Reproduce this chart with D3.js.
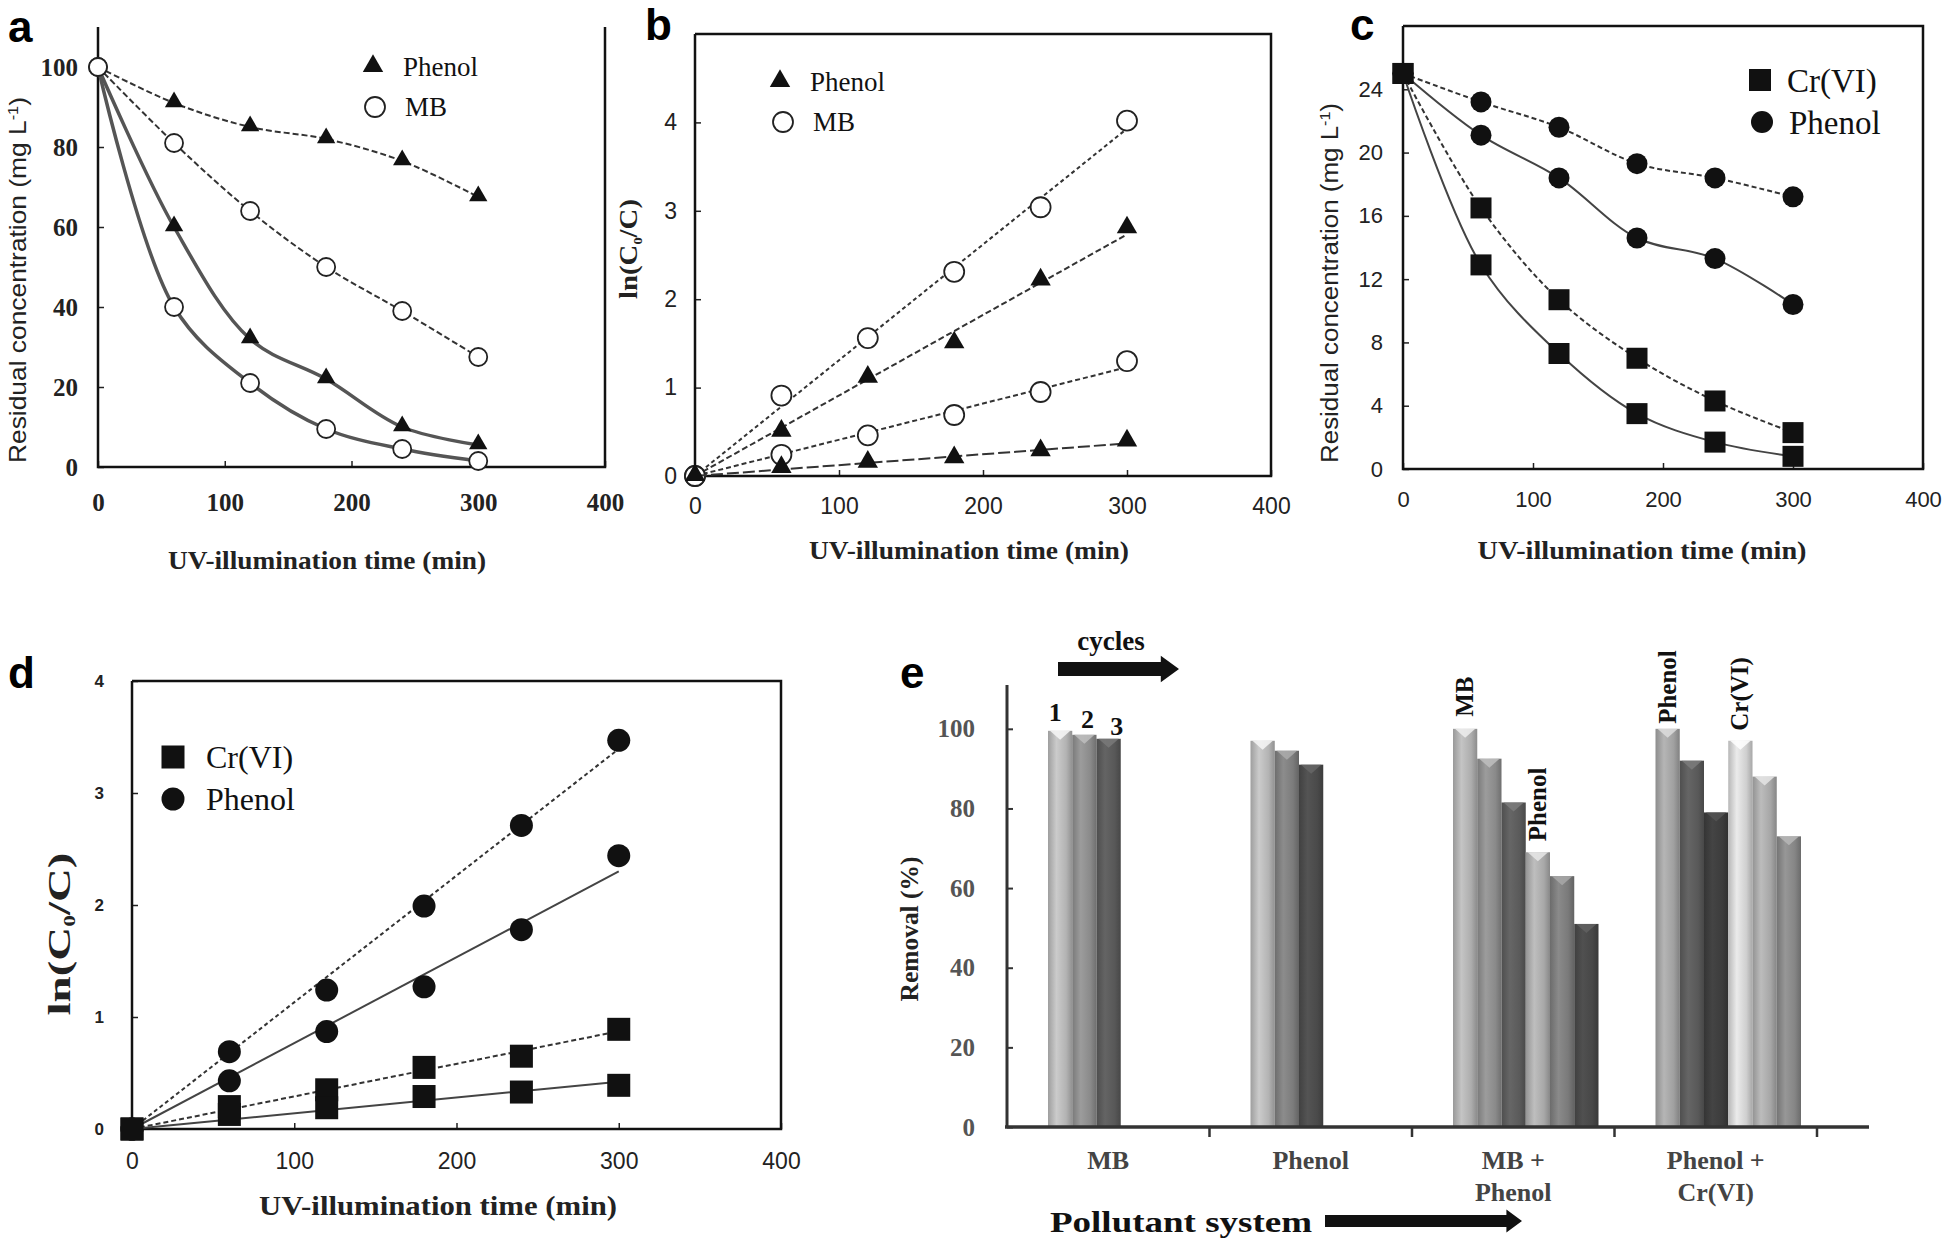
<!DOCTYPE html>
<meta charset="utf-8">
<head>
  <style>
    body { margin: 0; background: #fff; }
    svg { display: block; }
  </style>
  <script src="https://d3js.org/d3.v7.min.js"></script>
</head>
<body>
<script>
// ---- data ----
var times = [0, 60, 120, 180, 240, 300];

// panel a: residual concentration (mg/L)
var aPhenolDashed = [100, 91, 85, 82, 76.5, 67.5];
var aMBDashed     = [100, 81, 64, 50, 39, 27.5];
var aPhenolSolid  = [100, 60, 32, 22, 10, 5.5];
var aMBSolid      = [100, 40, 21, 9.5, 4.5, 1.5];

// panel b: ln(C0/C)
var bMBFast     = [0, 0.91, 1.56, 2.31, 3.04, 4.02];
var bPhenolFast = [0, 0.5, 1.11, 1.5, 2.21, 2.8];
var bMBSlow     = [0, 0.24, 0.46, 0.69, 0.95, 1.3];
var bPhenolSlow = [0, 0.09, 0.15, 0.2, 0.28, 0.39];

// panel c: residual concentration (mg/L)
var cPhenolDashed = [25, 23.2, 21.6, 19.3, 18.4, 17.2];
var cPhenolSolid  = [25, 21.1, 18.4, 14.6, 13.3, 10.4];
var cCrDashed     = [25, 16.5, 10.7, 7.0, 4.3, 2.3];
var cCrSolid      = [25, 12.9, 7.3, 3.5, 1.7, 0.8];

// panel d: ln(C0/C)
var dPhenolFast = [0, 0.69, 1.24, 1.99, 2.71, 3.47];
var dPhenolSlow = [0, 0.43, 0.87, 1.27, 1.78, 2.44];
var dCrFast     = [0, 0.2, 0.35, 0.55, 0.65, 0.89];
var dCrSlow     = [0, 0.13, 0.19, 0.29, 0.33, 0.39];

// panel e: removal (%) over 3 cycles
var systems = ["MB", "Phenol", "MB +|Phenol", "Phenol +|Cr(VI)"];
var removalMB       = [99.5, 98.5, 97.5];
var removalPhenol   = [97, 94.5, 91];
var removalMBPhenol = [100, 92.5, 81.5, 69, 63, 51];
var removalPhenolCr = [100, 92, 79, 97, 88, 73];

var xTicks = [0, 100, 200, 300, 400];

// ---- styles ----
var SERIF = "'Liberation Serif', 'Times New Roman', serif";
var SANS = "'Liberation Sans', Arial, sans-serif";
var barShades = [
  ["#b3b3b3", "#8a8a8a", "#585858"],
  ["#b3b3b3", "#7c7c7c", "#4a4a4a"],
  ["#adadad", "#8a8a8a", "#5a5a5a", "#a8a8a8", "#7a7a7a", "#474747"],
  ["#a0a0a0", "#595959", "#3c3c3c", "#cfcfcf", "#a6a6a6", "#858585"]
];

var svg = d3.select("body").append("svg")
  .attr("width", 1946).attr("height", 1238);
svg.append("rect").attr("width", 1946).attr("height", 1238).attr("fill", "#fff");

function panelLetter(t, x, y) {
  svg.append("text").attr("x", x).attr("y", y)
    .attr("font-family", SANS).attr("font-weight", "bold")
    .attr("font-size", 44).text(t);
}

function marker(g, type, x, y, s) {
  if (type == "tri") {
    g.append("path").attr("d", d3.symbol(d3.symbolTriangle, s * s * 0.45)())
      .attr("transform", "translate(" + x + "," + (y - 1) + ")").attr("fill", "#111");
  } else if (type == "ocircle") {
    g.append("circle").attr("cx", x).attr("cy", y).attr("r", s / 2)
      .attr("fill", "#fff").attr("stroke", "#222").attr("stroke-width", 1.8);
  } else if (type == "circle") {
    g.append("circle").attr("cx", x).attr("cy", y).attr("r", s / 2).attr("fill", "#111");
  } else {
    g.append("rect").attr("x", x - s / 2).attr("y", y - s / 2)
      .attr("width", s).attr("height", s).attr("fill", "#111");
  }
}

// generic line panel
function linePanel(cfg) {
  var x = d3.scaleLinear().domain([0, 400]).range(cfg.xr);
  var y = d3.scaleLinear().domain(cfg.yd).range(cfg.yr);
  var g = svg.append("g");

  // axes with inward ticks
  var ax = g.append("g").attr("transform", "translate(0," + cfg.yr[0] + ")")
    .call(d3.axisBottom(x).tickValues(xTicks).tickSizeInner(-6).tickSizeOuter(0)
      .tickPadding(cfg.xPad).tickFormat(d3.format("d")));
  ax.select(".domain").remove();
  ax.selectAll("line").attr("stroke", "#222").attr("stroke-width", 1.5);
  ax.selectAll("text").attr("font-family", cfg.tickFont).attr("font-size", cfg.tickSize)
    .attr("font-weight", cfg.tickWeight).attr("fill", "#222");

  var ay = g.append("g").attr("transform", "translate(" + cfg.xr[0] + ",0)")
    .call(d3.axisLeft(y).tickValues(cfg.yTicks).tickSizeInner(-6).tickSizeOuter(0)
      .tickPadding(cfg.yPad).tickFormat(d3.format("d")));
  ay.select(".domain").remove();
  ay.selectAll("line").attr("stroke", "#222").attr("stroke-width", 1.5);
  ay.selectAll("text").attr("font-family", cfg.yTickFont || cfg.tickFont)
    .attr("font-size", cfg.yTickSize || cfg.tickSize)
    .attr("font-weight", cfg.yTickWeight || cfg.tickWeight).attr("fill", "#222");

  // frame
  var x0 = cfg.xr[0], x1 = cfg.xr[1], y0 = cfg.yr[0], y1 = cfg.yr[1];
  var frame = cfg.noTop
    ? [[x0, y1], [x0, y0], [x1, y0], [x1, y1]]
    : [[x0, y1], [x0, y0], [x1, y0], [x1, y1], [x0, y1]];
  g.append("path").attr("d", d3.line()(frame)).attr("fill", "none")
    .attr("stroke", "#111").attr("stroke-width", 2.5);

  // series
  cfg.series.forEach(function(s) {
    var pts = times.map(function(t, i) { return [t, s.values[i]]; });
    var linePts;
    if (cfg.fit) {
      // least squares line through the origin
      var sxy = d3.sum(pts, function(p) { return p[0] * p[1]; });
      var sxx = d3.sum(pts, function(p) { return p[0] * p[0]; });
      var k = sxy / sxx;
      linePts = [[0, 0], [300, 300 * k]];
    } else {
      linePts = pts;
    }
    g.append("path")
      .attr("d", d3.line().x(function(p) { return x(p[0]); }).y(function(p) { return y(p[1]); })
        .curve(cfg.fit ? d3.curveLinear : d3.curveCatmullRom.alpha(0.5))(linePts))
      .attr("fill", "none").attr("stroke", s.color || "#333")
      .attr("stroke-width", s.width || 2)
      .attr("stroke-dasharray", s.dash || null);
    pts.forEach(function(p) { marker(g, s.marker, x(p[0]), y(p[1]), cfg.mSize); });
  });

  // legend
  cfg.legend.forEach(function(l) {
    marker(g, l.marker, l.x, l.y, cfg.lSize);
    g.append("text").attr("x", l.x + cfg.lGap).attr("y", l.y).attr("dy", "0.35em")
      .attr("font-family", SERIF).attr("font-size", cfg.lFont).attr("fill", "#111").text(l.label);
  });

  // titles
  g.append("text").attr("x", cfg.xtX).attr("y", cfg.xtY)
    .attr("text-anchor", "middle").attr("font-family", SERIF).attr("font-weight", "bold")
    .attr("font-size", cfg.xtSize || 25).attr("fill", "#222")
    .attr("textLength", cfg.xtLen).attr("lengthAdjust", "spacingAndGlyphs")
    .text("UV-illumination time (min)");

  var yt = g.append("text").attr("transform", "translate(" + cfg.ytX + "," + cfg.ytY + ") rotate(-90)")
    .attr("text-anchor", "middle").attr("fill", "#222")
    .attr("textLength", cfg.ytLen).attr("lengthAdjust", "spacingAndGlyphs");
  if (cfg.ln) {
    yt.attr("font-family", SERIF).attr("font-weight", "bold").attr("font-size", cfg.ytSize);
    yt.append("tspan").text("ln(C");
    yt.append("tspan").attr("font-size", cfg.ytSize * 0.5).attr("dy", 5).text("0");
    yt.append("tspan").attr("dy", -5).text("/C)");
  } else {
    yt.attr("font-family", SANS).attr("font-size", cfg.ytSize);
    yt.append("tspan").text("Residual concentration (mg L");
    yt.append("tspan").attr("font-size", cfg.ytSize * 0.62).attr("dy", -8).text("-1");
    yt.append("tspan").attr("dy", 8).text(")");
  }
}

// ---- panel a ----
panelLetter("a", 8, 42);
linePanel({
  xr: [98, 605], yr: [467, 27], yd: [0, 110], yTicks: [0, 20, 40, 60, 80, 100],
  noTop: true, xPad: 26, yPad: 20, tickFont: SERIF, tickSize: 25, tickWeight: "bold",
  mSize: 18, lSize: 20, lGap: 30, lFont: 27,
  series: [
    { values: aPhenolDashed, marker: "tri", dash: "6,3" },
    { values: aMBDashed, marker: "ocircle", dash: "6,3" },
    { values: aPhenolSolid, marker: "tri", color: "#555", width: 3.5 },
    { values: aMBSolid, marker: "ocircle", color: "#555", width: 3.5 }
  ],
  legend: [
    { marker: "tri", x: 373, y: 67, label: "Phenol" },
    { marker: "ocircle", x: 375, y: 107, label: "MB" }
  ],
  xtX: 327, xtY: 569, xtLen: 318, ytX: 26, ytY: 280, ytSize: 24, ytLen: 366
});

// ---- panel b ----
panelLetter("b", 645, 40);
linePanel({
  xr: [695, 1271], yr: [476, 34], yd: [0, 5], yTicks: [0, 1, 2, 3, 4],
  xPad: 22, yPad: 18, tickFont: SANS, tickSize: 23, tickWeight: "normal",
  mSize: 20, lSize: 20, lGap: 30, lFont: 27, fit: true,
  series: [
    { values: bMBFast, marker: "ocircle", dash: "4,3" },
    { values: bPhenolFast, marker: "tri", dash: "6,3" },
    { values: bMBSlow, marker: "ocircle", dash: "5,3" },
    { values: bPhenolSlow, marker: "tri", dash: "12,4" }
  ],
  legend: [
    { marker: "tri", x: 780, y: 82, label: "Phenol" },
    { marker: "ocircle", x: 783, y: 122, label: "MB" }
  ],
  xtX: 969, xtY: 559, xtLen: 320, ytX: 637, ytY: 249, ytSize: 26, ytLen: 100, ln: true
});

// ---- panel c ----
panelLetter("c", 1350, 40);
linePanel({
  xr: [1403, 1923], yr: [469, 26], yd: [0, 28], yTicks: [0, 4, 8, 12, 16, 20, 24],
  xPad: 22, yPad: 20, tickFont: SANS, tickSize: 22, tickWeight: "normal",
  mSize: 21, lSize: 22, lGap: 27, lFont: 33,
  series: [
    { values: cPhenolDashed, marker: "circle", dash: "5,3" },
    { values: cPhenolSolid, marker: "circle", color: "#444" },
    { values: cCrDashed, marker: "square", dash: "5,3" },
    { values: cCrSolid, marker: "square", color: "#444" }
  ],
  legend: [
    { marker: "square", x: 1760, y: 80, label: "Cr(VI)" },
    { marker: "circle", x: 1762, y: 122, label: "Phenol" }
  ],
  xtX: 1642, xtY: 559, xtLen: 329, ytX: 1338, ytY: 283, ytSize: 23, ytLen: 360
});

// ---- panel d ----
panelLetter("d", 8, 688);
linePanel({
  xr: [132, 781], yr: [1129, 681], yd: [0, 4], yTicks: [0, 1, 2, 3, 4],
  xPad: 24, yPad: 28, tickFont: SANS, tickSize: 23, tickWeight: "normal",
  yTickSize: 17, yTickWeight: "bold",
  mSize: 23, lSize: 23, lGap: 33, lFont: 32, fit: true,
  series: [
    { values: dPhenolFast, marker: "circle", dash: "4,3" },
    { values: dPhenolSlow, marker: "circle", color: "#444" },
    { values: dCrFast, marker: "square", dash: "5,3" },
    { values: dCrSlow, marker: "square", color: "#444" }
  ],
  legend: [
    { marker: "square", x: 173, y: 757, label: "Cr(VI)" },
    { marker: "circle", x: 173, y: 799, label: "Phenol" }
  ],
  xtX: 438, xtY: 1215, xtSize: 27, xtLen: 358, ytX: 70, ytY: 934, ytSize: 32, ytLen: 163, ln: true
});

// ---- panel e ----
panelLetter("e", 900, 688);
(function() {
  var g = svg.append("g");
  var x = d3.scaleBand().domain(systems).range([1007, 1817]);
  var slot = d3.scaleBand().domain(d3.range(6)).range([41, 41 + 145.5]);
  var y = d3.scaleLinear().domain([0, 110]).range([1127, 689]);
  var groups = [removalMB, removalPhenol, removalMBPhenol, removalPhenolCr];

  var defs = svg.append("defs");
  var gid = 0;
  function grad(c) {
    var id = "g" + (gid++);
    var base = d3.color(c);
    var lg = defs.append("linearGradient").attr("id", id)
      .attr("x1", "0%").attr("x2", "100%").attr("y1", "0%").attr("y2", "0%");
    lg.append("stop").attr("offset", "0%").attr("stop-color", base.darker(0.35));
    lg.append("stop").attr("offset", "35%").attr("stop-color", base.brighter(0.35));
    lg.append("stop").attr("offset", "75%").attr("stop-color", base);
    lg.append("stop").attr("offset", "100%").attr("stop-color", base.darker(0.6));
    return "url(#" + id + ")";
  }

  groups.forEach(function(vals, gi) {
    vals.forEach(function(v, i) {
      var bx = x(systems[gi]) + slot(i), bw = slot.bandwidth(), by = y(v);
      g.append("rect").attr("x", bx).attr("y", by).attr("width", bw)
        .attr("height", y(0) - by).attr("fill", grad(barShades[gi][i]));
      g.append("path")
        .attr("d", d3.line()([[bx + 2, by], [bx + bw - 2, by], [bx + bw / 2, by + 9]]) + "Z")
        .attr("fill", d3.color(barShades[gi][i]).brighter(0.9)).attr("opacity", 0.85);
    });
  });

  // axes
  var ay = g.append("g").attr("transform", "translate(1007,0)")
    .call(d3.axisLeft(y).tickValues([0, 20, 40, 60, 80, 100]).tickSizeInner(-6).tickSizeOuter(0).tickPadding(32));
  ay.select(".domain").remove();
  ay.selectAll("line").attr("stroke", "#333").attr("stroke-width", 2);
  ay.selectAll("text").attr("font-family", SERIF).attr("font-weight", "bold")
    .attr("font-size", 25).attr("fill", "#555");
  g.append("line").attr("x1", 1007).attr("x2", 1007).attr("y1", 685).attr("y2", 1128)
    .attr("stroke", "#333").attr("stroke-width", 3);
  g.append("line").attr("x1", 1005).attr("x2", 1869).attr("y1", 1127).attr("y2", 1127)
    .attr("stroke", "#333").attr("stroke-width", 3.5);
  systems.forEach(function(s) {
    var tx = x(s) + x.bandwidth();
    g.append("line").attr("x1", tx).attr("x2", tx).attr("y1", 1127).attr("y2", 1137)
      .attr("stroke", "#333").attr("stroke-width", 2.5);
    s.split("|").forEach(function(line, li) {
      g.append("text").attr("x", x(s) + x.bandwidth() / 2).attr("y", 1160 + li * 32)
        .attr("dy", "0.35em").attr("text-anchor", "middle")
        .attr("font-family", SERIF).attr("font-weight", "bold").attr("font-size", 26)
        .attr("fill", "#444").text(line);
    });
  });

  // cycle numbers above MB bars
  ["1", "2", "3"].forEach(function(t, i) {
    var bx = x(systems[0]) + slot(i) + slot.bandwidth() / 2;
    g.append("text").attr("x", bx + (i == 0 ? -5 : i == 2 ? 8 : 3)).attr("y", y(removalMB[i]) - 10 + i * 3)
      .attr("text-anchor", "middle").attr("font-family", SERIF).attr("font-weight", "bold")
      .attr("font-size", 26).attr("fill", "#111").text(t);
  });

  // vertical labels above bars
  function vlabel(t, gi, i, gap) {
    var bx = x(systems[gi]) + slot(i) + slot.bandwidth() / 2;
    g.append("text").attr("transform", "translate(" + (bx + 8) + "," + (y(groups[gi][i]) - gap) + ") rotate(-90)")
      .attr("font-family", SERIF).attr("font-weight", "bold").attr("font-size", 25)
      .attr("fill", "#111").text(t);
  }
  vlabel("MB", 2, 0, 12);
  vlabel("Phenol", 2, 3, 11);
  vlabel("Phenol", 3, 0, 5);
  vlabel("Cr(VI)", 3, 3, 10);

  // axis title
  g.append("text").attr("transform", "translate(918,929) rotate(-90)")
    .attr("text-anchor", "middle").attr("font-family", SERIF).attr("font-weight", "bold")
    .attr("font-size", 25).attr("fill", "#222")
    .attr("textLength", 145).attr("lengthAdjust", "spacingAndGlyphs").text("Removal (%)");

  // arrows
  function arrow(x1, x2, yc, t) {
    var hl = t * 1.3, hh = t * 0.95;
    g.append("path").attr("d", d3.line()([
      [x1, yc - t / 2], [x2 - hl, yc - t / 2], [x2 - hl, yc - hh], [x2, yc],
      [x2 - hl, yc + hh], [x2 - hl, yc + t / 2], [x1, yc + t / 2]]) + "Z")
      .attr("fill", "#111");
  }
  g.append("text").attr("x", 1111).attr("y", 641).attr("dy", "0.35em").attr("text-anchor", "middle")
    .attr("font-family", SERIF).attr("font-weight", "bold").attr("font-size", 27)
    .attr("fill", "#111").text("cycles");
  arrow(1058, 1179, 669, 14);
  g.append("text").attr("x", 1050).attr("y", 1221).attr("dy", "0.35em")
    .attr("font-family", SERIF).attr("font-weight", "bold").attr("font-size", 30)
    .attr("textLength", 262).attr("lengthAdjust", "spacingAndGlyphs")
    .attr("fill", "#111").text("Pollutant system");
  arrow(1325, 1522, 1221, 12);
})();
</script>
</body>
